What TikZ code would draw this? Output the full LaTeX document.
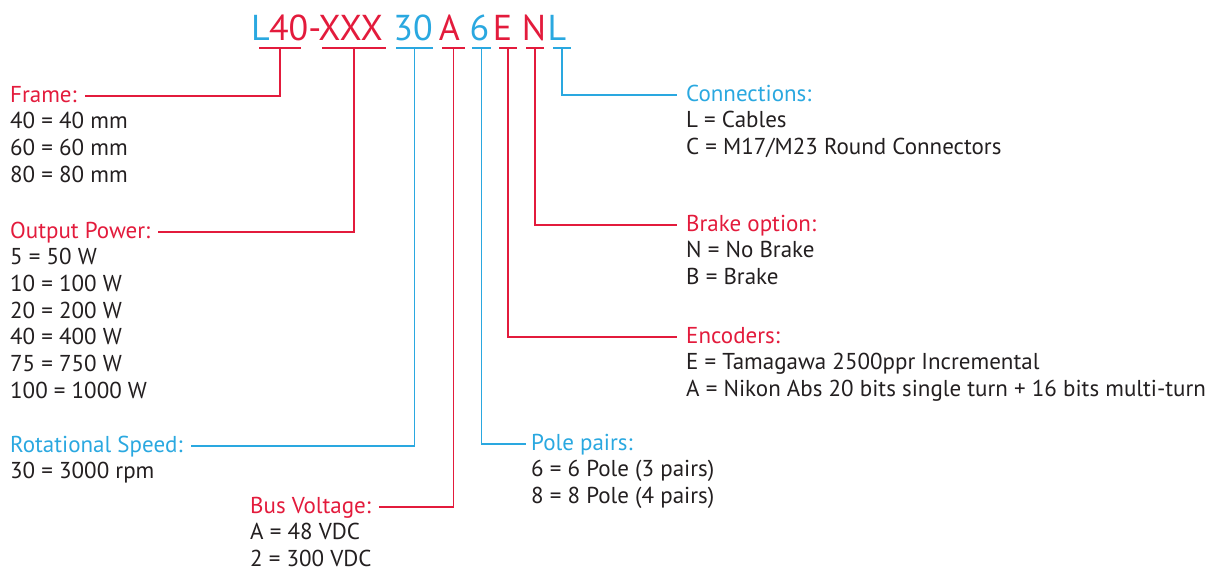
\documentclass[tikz,border=0pt]{standalone}
\usepackage{fontspec}
\setmainfont{PT Sans}
\definecolor{cred}{HTML}{E31B3C}
\definecolor{cblue}{HTML}{2AA8E0}
\definecolor{ctext}{HTML}{231F20}
\begin{document}
\begin{tikzpicture}[x=1pt,y=-1pt,
  code/.style={font=\fontsize{36}{36}\selectfont, anchor=base, inner sep=0pt},
  ttl/.style={font=\fontsize{23}{27}\selectfont, anchor=base west, inner sep=0pt},
  txt/.style={ttl, text=ctext},
  lr/.style={draw=cred, line width=1.3pt},
  lb/.style={draw=cblue, line width=1.3pt}]
\useasboundingbox (0,0) rectangle (1227,570);

% code letters
\node[code,text=cblue] (c1) at (260.5,40) {L};
\node[code,text=cred]  (c2) at (326,40) {40-XXX};
\node[code,text=cblue] (c3) at (413,40) {30};
\node[code,text=cred]  (c4) at (449.5,40) {A};
\node[code,text=cblue] (c5) at (479.5,40) {6};
\node[code,text=cred]  (c6) at (502.5,40) {E};
\node[code,text=cred]  (c7) at (534,40) {N};
\node[code,text=cblue] (c8) at (557,40) {L};

% titles
\node[ttl,text=cred]  (frame) at (10,102) {Frame:};
\node[ttl,text=cred]  (power) at (10,238) {Output Power:};
\node[ttl,text=cblue] (speed) at (10,452) {Rotational Speed:};
\node[ttl,text=cred]  (bus)   at (250,513) {Bus Voltage:};
\node[ttl,text=cblue] (pole)  at (531,450) {Pole pairs:};
\node[ttl,text=cred]  (enc)   at (686,343) {Encoders:};
\node[ttl,text=cred]  (brake) at (686,231) {Brake option:};
\node[ttl,text=cblue] (conn)  at (686,101) {Connections:};

% bodies
\foreach \t [count=\i] in {40 = 40 mm, 60 = 60 mm, 80 = 80 mm}
  \node[txt] (frame\i) at (10,{102+26.7*\i}) {\t};
\foreach \t [count=\i] in {5 = 50 W, 10 = 100 W, 20 = 200 W, 40 = 400 W, 75 = 750 W, 100 = 1000 W}
  \node[txt] (power\i) at (10,{238+26.7*\i}) {\t};
\node[txt] (speed1) at (10,{452+26.7}) {30 = 3000 rpm};
\foreach \t [count=\i] in {A = 48 VDC, 2 = 300 VDC}
  \node[txt] (bus\i) at (250,{513+26.5*\i}) {\t};
\foreach \t [count=\i] in {6 = 6 Pole (3 pairs), 8 = 8 Pole (4 pairs)}
  \node[txt] (pole\i) at (531,{450+26.7*\i}) {\t};
\foreach \t [count=\i] in {E = Tamagawa 2500ppr Incremental, A = Nikon Abs 20 bits single turn + 16 bits multi-turn}
  \node[txt] (enc\i) at (686,{343+26.7*\i}) {\t};
\foreach \t [count=\i] in {N = No Brake, B = Brake}
  \node[txt] (brake\i) at (686,{231+26.7*\i}) {\t};
\foreach \t [count=\i] in {L = Cables, C = M17/M23 Round Connectors}
  \node[txt] (conn\i) at (686,{101+26.7*\i}) {\t};

% underlines
\draw[lr] (259,48) -- coordinate[pos=.5] (u1) (301,48);
\draw[lr] (322,48) -- coordinate[pos=.5] (u2) (386,48);
\draw[lb] (396,48) -- coordinate[pos=.5] (u3) (433,48);
\draw[lr] (442,48) -- coordinate[pos=.5] (u4) (465,48);
\draw[lb] (472,48) -- coordinate[pos=.5] (u5) (491,48);
\draw[lr] (499,48) -- coordinate[pos=.5] (u6) (517,48);
\draw[lr] (526,48) -- coordinate[pos=.5] (u7) (544,48);
\draw[lb] (553,48) -- coordinate[pos=.5] (u8) (571,48);

% connectors
\draw[lr] (u1) |- ([xshift=8pt,yshift=6pt]frame.base east);
\draw[lr] (u2) |- ([xshift=8pt,yshift=6pt]power.base east);
\draw[lb] (u3) |- ([xshift=8pt,yshift=6pt]speed.base east);
\draw[lr] (u4) |- ([xshift=8pt,yshift=6pt]bus.base east);
\draw[lb] (u5) |- ([xshift=-5pt,yshift=6pt]pole.base west);
\draw[lr] (u6) |- ([xshift=-9pt,yshift=6pt]enc.base west);
\draw[lr] (u7) |- ([xshift=-9pt,yshift=6pt]brake.base west);
\draw[lb] (u8) |- ([xshift=-9pt,yshift=6pt]conn.base west);
\end{tikzpicture}
\end{document}
